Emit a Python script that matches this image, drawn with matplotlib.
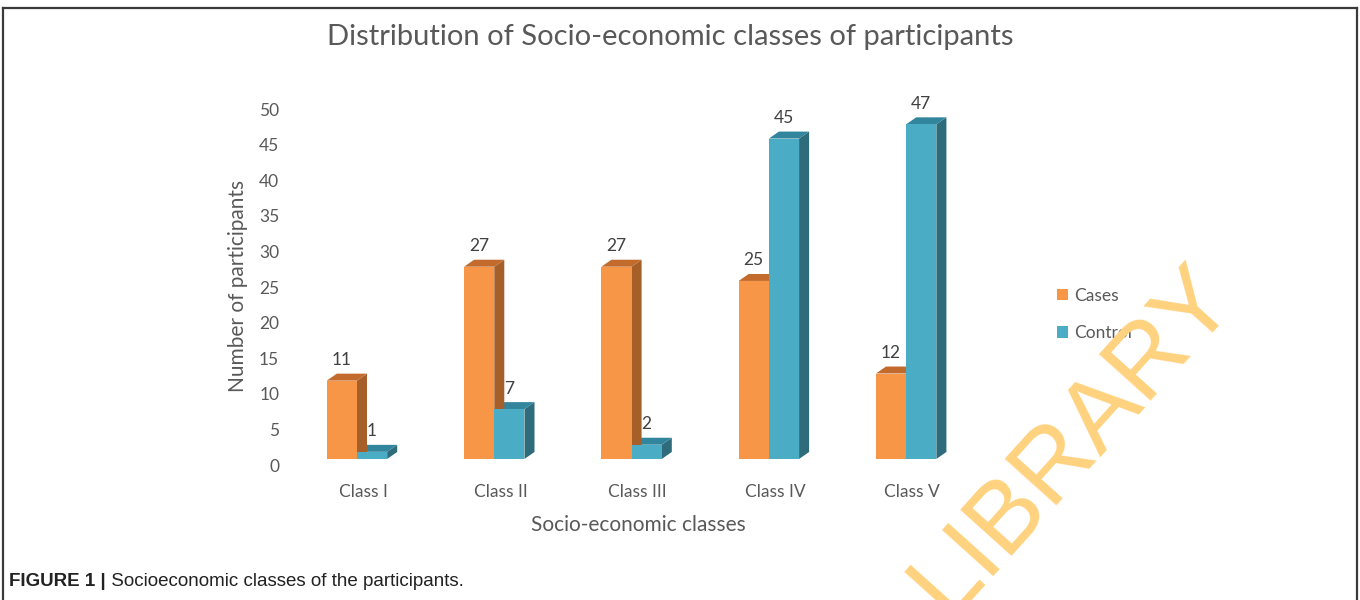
import numpy as np
import matplotlib
matplotlib.use("Agg")
import matplotlib.pyplot as plt
from matplotlib.patches import Polygon, Patch
from matplotlib.lines import Line2D

# ---------------- data ----------------
classes = ["Class I", "Class II", "Class III", "Class IV", "Class V"]
cases = [11, 27, 27, 25, 12]
control = [1, 7, 2, 45, 47]
yticks = [0, 5, 10, 15, 20, 25, 30, 35, 40, 45, 50]

title = "Distribution of Socio-economic classes of participants"
xlabel = "Socio-economic classes"
ylabel = "Number of participants"

# ---------------- style ----------------
W, H = 1360, 600
FONT = "Lato"
TXT = "#595959"
VAL = "#404040"
orange = dict(front="#F79646", side="#A65F29", top="#C26B2C")
blue = dict(front="#4BACC6", side="#2E6B7B", top="#31859C")

bar_w = 0.22    # front face width (category units)
dx, dy = 0.073, 0.98   # depth offset of the 3D look
base = 0.85     # floor of the bars


def fx(px):
    return px / W


def fy(py):
    return 1 - py / H


fig = plt.figure(figsize=(W / 100, H / 100), dpi=100)
fig.patch.set_facecolor("white")

# axes placed so that category centres / tick values sit where the reference has them
ax = fig.add_axes([fx(294.5), fy(465), fx(981) - fx(294.5), fy(109) - fy(465)])
ax.set_xlim(-0.5, len(classes) - 0.5)
ax.set_ylim(0, 50)
for s in ax.spines.values():
    s.set_visible(False)
ax.set_yticks(yticks)
ax.set_yticklabels([str(t) for t in yticks], fontsize=12.5, color=TXT, family=FONT)
ax.set_xticks(range(len(classes)))
ax.set_xticklabels(classes, fontsize=12.5, color=TXT, family=FONT)
ax.tick_params(axis="y", length=0, pad=11)
ax.tick_params(axis="x", length=0, pad=14)


def bar3d(x0, v, col):
    y0, y1 = base, base + v
    x1 = x0 + bar_w
    front = Polygon([(x0, y0), (x1, y0), (x1, y1), (x0, y1)], closed=True,
                    facecolor=col["front"], edgecolor="none", zorder=3)
    side = Polygon([(x1, y0), (x1 + dx, y0 + dy), (x1 + dx, y1 + dy), (x1, y1)], closed=True,
                   facecolor=col["side"], edgecolor="none", zorder=2)
    top = Polygon([(x0, y1), (x1, y1), (x1 + dx, y1 + dy), (x0 + dx, y1 + dy)], closed=True,
                  facecolor=col["top"], edgecolor="none", zorder=2)
    for p in (side, top, front):
        p.set_clip_on(False)
        ax.add_patch(p)
    ax.annotate(str(v), xy=(x0 + bar_w / 2, y1 + dy), xytext=(0, 4), textcoords="offset points",
                ha="center", va="bottom", fontsize=12.5, color=VAL, family=FONT,
                annotation_clip=False)


for i in range(len(classes)):
    left = i - 0.265
    # control first so the orange side face sits behind the blue front
    bar3d(left + bar_w, control[i], blue)
    bar3d(left, cases[i], orange)

# titles
fig.text(fx(670), fy(37), title, ha="center", va="center", fontsize=21, color=TXT, family=FONT)
fig.text(fx(638), fy(525), xlabel, ha="center", va="center", fontsize=15, color=TXT, family=FONT)
fig.text(fx(238), fy(286), ylabel, ha="center", va="center", rotation=90, fontsize=15,
         color=TXT, family=FONT)

# legend
handles = [Patch(facecolor=orange["front"], label="Cases"),
           Patch(facecolor=blue["front"], label="Control")]
fig.legend(handles=handles, loc="upper left", bbox_to_anchor=(fx(1041), fy(272)),
           frameon=False, handlelength=0.65, handleheight=0.65,
           handletextpad=0.35, labelspacing=1.25, labelcolor=TXT,
           prop={"family": FONT, "size": 12.5})

# outer frame (open at the bottom)
for xs, ys in [([3, 3], [600, 8]), ([3, 1357], [8, 8]), ([1357, 1357], [8, 600])]:
    fig.add_artist(Line2D([fx(x) for x in xs], [fy(y) for y in ys], color="#3a3a3a", lw=1.6))

# caption
cap = fig.text(fx(9), fy(582), "FIGURE 1 |", ha="left", va="center", fontsize=13.5,
               fontweight="bold", color="#222222", family="Liberation Sans")
ax.annotate(" Socioeconomic classes of the participants.", xy=(1, 0.5), xycoords=cap,
            ha="left", va="center", fontsize=13.5, color="#222222", family="Liberation Sans",
            annotation_clip=False)

# watermark
fig.text(fx(1073), fy(440), "LIBRARY", ha="center", va="center", rotation=48,
         rotation_mode="anchor", fontsize=73, color="#FFD27F", family="Liberation Sans",
         zorder=20)

fig.savefig("out.png", dpi=100)
